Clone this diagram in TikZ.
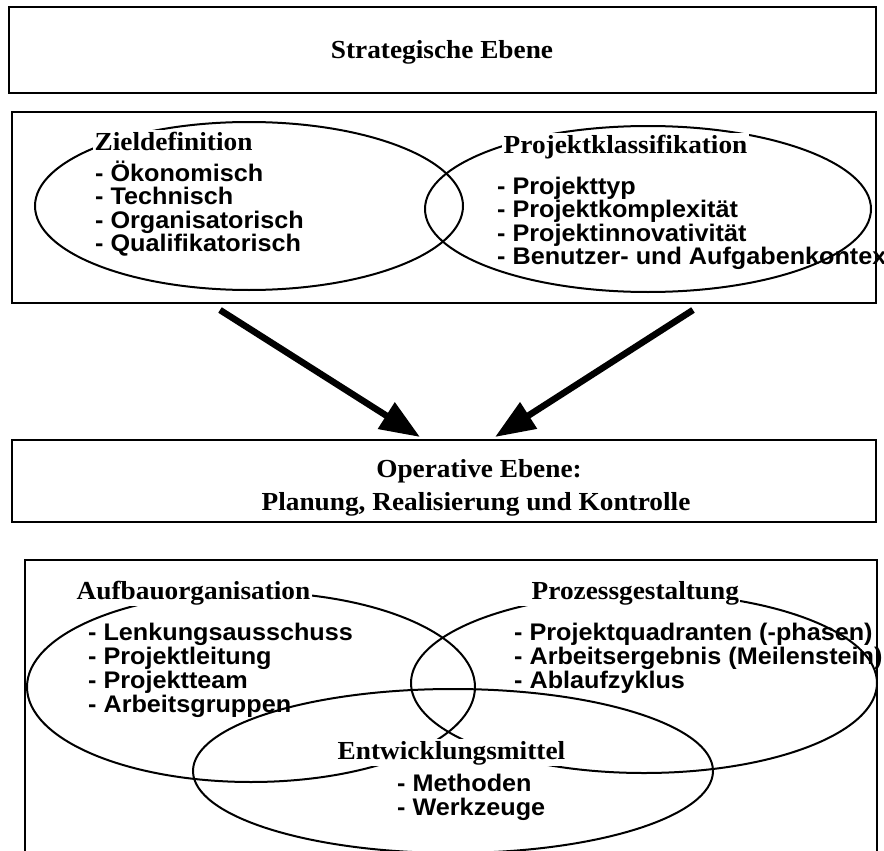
\documentclass[tikz,border=0pt]{standalone}
\usepackage{fontspec}
\setmainfont{Liberation Serif}[FakeStretch=1.05]
\setsansfont{Liberation Sans}[FakeStretch=1.05]
\usepackage{tikz}
\usetikzlibrary{shapes.geometric,arrows.meta}

\tikzset{
  ebox/.style={draw,line width=2.6pt,inner sep=0pt},
  venn/.style={draw,ellipse,line width=2pt,inner sep=0pt},
  head/.style={font=\bfseries\fontsize{26}{30}\selectfont,inner sep=1.5pt,anchor=base west},
  headbg/.style={head,fill=white},
  entry/.style={font=\sffamily\bfseries\fontsize{24}{24}\selectfont,inner sep=0pt,anchor=base west},
  bigarrow/.style={line width=6.5pt,-{Triangle[length=40pt,width=30pt]}}
}

\begin{document}
\begin{tikzpicture}[x=1pt,y=-1pt]
  \useasboundingbox (0,0) rectangle (884,851);
  % boxes
  \node[ebox,minimum width=867pt,minimum height=86pt] (strat) at (442.5,50) {};
  \node[ebox,minimum width=864pt,minimum height=191pt] (zielbox) at (444,207.5) {};
  \node[ebox,minimum width=864pt,minimum height=82pt] (oper) at (444,481) {};
  \node[ebox,minimum width=852pt,minimum height=320pt] (orgbox) at (451,720) {};
  \node[head,anchor=base] (strattxt) at (442,58.5) {Strategische Ebene};
  \node[head,anchor=base] (opertxt) at (479,477) {Operative Ebene:};
  \node[head,anchor=base] (planung) at (476,510) {Planung, Realisierung und Kontrolle};

  % ellipses
  \node[venn,minimum width=428pt,minimum height=168pt] (ziel) at (249,206) {};
  \node[venn,minimum width=446pt,minimum height=166pt] (klass) at (648,209) {};
  \node[venn,minimum width=448pt,minimum height=190pt] (aufbau) at (251,687) {};
  \node[venn,minimum width=466pt,minimum height=180pt] (prozess) at (644,683) {};
  \node[venn,minimum width=520pt,minimum height=164pt] (mittel) at (453,771) {};

  % titles
  \node[headbg] (zieltxt) at (93,150) {Zieldefinition};
  \node[headbg] (klasstxt) at (502,153) {Projektklassifikation\hspace{28pt}};
  \node[headbg] (aufbautxt) at (75,599) {Aufbauorganisation};
  \node[headbg] (prozesstxt) at (516,599) {\hspace{14pt}Prozessgestaltung\hspace{26pt}};
  \node[headbg] (mitteltxt) at (336,759) {Entwicklungsmittel};

  % lists
  \foreach \t [count=\i] in {\"Okonomisch,Technisch,Organisatorisch,Qualifikatorisch}
    \node[entry] (ziel\i) at (95,{181+23.5*(\i-1)}) {- \t};
  \foreach \t [count=\i] in {Projekttyp,Projektkomplexit\"at,Projektinnovativit\"at,Benutzer- und Aufgabenkontext}
    \node[entry] (klass\i) at (497,{194+23.5*(\i-1)}) {- \t};
  \foreach \t [count=\i] in {Lenkungsausschuss,Projektleitung,Projektteam,Arbeitsgruppen}
    \node[entry] (aufbau\i) at (88,{640+24*(\i-1)}) {- \t};
  \foreach \t [count=\i] in {Projektquadranten (-phasen),Arbeitsergebnis (Meilenstein),Ablaufzyklus}
    \node[entry] (prozess\i) at (514,{640+24*(\i-1)}) {- \t};
  \foreach \t [count=\i] in {Methoden,Werkzeuge}
    \node[entry] (mittel\i) at (397,{791+24*(\i-1)}) {- \t};

  % arrows
  \coordinate (zielfuss) at (220,310);
  \coordinate (klassfuss) at (693,310);
  \coordinate (operl) at (420,437);
  \coordinate (operr) at (495,437);
  \draw[bigarrow] (zielfuss) -- (operl);
  \draw[bigarrow] (klassfuss) -- (operr);
\end{tikzpicture}
\end{document}
